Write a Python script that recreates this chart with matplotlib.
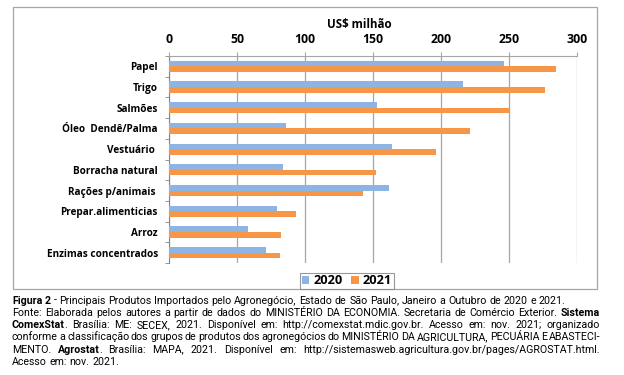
import os
import numpy as np
import matplotlib
matplotlib.use("Agg")
import matplotlib.pyplot as plt
from matplotlib import font_manager
from matplotlib.font_manager import FontProperties
from matplotlib.patches import Rectangle

# ---- data (US$ milhão, Jan-Out) ----
categories = ["Papel", "Trigo", "Salmões", "Óleo  Dendê/Palma", "Vestuário ",
              "Borracha natural", "Rações p/animais ", "Prepar.alimenticias",
              "Arroz", "Enzimas concentrados"]
values_2020 = [246.5, 216.4, 153.0, 86.0, 163.8, 83.5, 161.5, 79.5, 57.8, 71.6]
values_2021 = [284.3, 276.2, 250.0, 221.6, 196.0, 152.0, 142.5, 93.5, 82.1, 81.4]
x_ticks = [0, 50, 100, 150, 200, 250, 300]

caption_lines = [
    [("Figura 2", True), ("- Principais Produtos Importados pelo Agronegócio, Estado de São Paulo, "
                          "Janeiro a Outubro de 2020 e 2021.", False)],
    [("Fonte: Elaborada pelos autores a partir de dados do MINISTÉRIO DA ECONOMIA. "
      "Secretaria de Comércio Exterior.", False), ("Sistema", True)],
    [("ComexStat", True), (". Brasília: ME: SECEX, 2021. Disponível em: http://comexstat.mdic.gov.br. "
                           "Acesso em: nov. 2021; organizado", False)],
    [("conforme a classificação dos grupos de produtos dos agronegócios do MINISTÉRIO DA "
      "AGRICULTURA, PECUÁRIA E ABASTECI-", False)],
    [("MENTO.", False), ("Agrostat", True), (". Brasília: MAPA, 2021. Disponível em: "
                                             "http://sistemasweb.agricultura.gov.br/pages/AGROSTAT.html.", False)],
    [("Acesso em: nov. 2021.", False)],
]
justify = [False, True, True, True, True, False]

BLUE = "#8EB4E3"
ORANGE = "#F79646"
W, H = 624, 375
CHART_FONT = "Open Sans"


def bold_font(family, size):
    # look for the "<Family>-Bold" file itself; fall back to a normal lookup
    key = family.replace(" ", "").lower() + "-bold."
    for f in font_manager.fontManager.ttflist:
        if os.path.basename(f.fname).lower().startswith(key):
            return FontProperties(fname=f.fname, size=size)
    return FontProperties(family=family, weight="bold", size=size)


fig = plt.figure(figsize=(W / 100, H / 100), dpi=100)
fig.patch.set_facecolor("white")

# chart area border
fig.patches.append(Rectangle((13 / W, 1 - 289 / H), 584 / W, 282 / H,
                             transform=fig.transFigure, fill=False,
                             edgecolor="#A6A6A6", linewidth=0.9))

ax = fig.add_axes([169 / W, 1 - 263 / H, 408 / W, 207 / H])
y = np.arange(len(categories))
bh = 0.27
ax.barh(y - bh / 2, values_2020, height=bh, color=BLUE, label="2020", zorder=3)
ax.barh(y + bh / 2, values_2021, height=bh, color=ORANGE, label="2021", zorder=3)
ax.set_ylim(len(categories) - 0.5, -0.5)
ax.set_xlim(0, 300)

ax.xaxis.tick_top()
ax.set_xticks(x_ticks)
ax.set_xticklabels([str(t) for t in x_ticks], fontproperties=bold_font(CHART_FONT, 8.8))
ax.tick_params(axis="x", length=3, color="#A6A6A6", pad=4)
ax.set_yticks(y)
ax.set_yticklabels(categories, fontproperties=bold_font(CHART_FONT, 7.2))
ax.tick_params(axis="y", length=0, pad=8)
ax.set_yticks(np.arange(len(categories) + 1) - 0.5, minor=True)
ax.tick_params(axis="y", which="minor", length=3, color="#868686")
ax.grid(axis="x", color="#A6A6A6", linewidth=0.9, zorder=0)
for s in ["right", "bottom"]:
    ax.spines[s].set_visible(False)
ax.spines["top"].set_color("#A6A6A6")
ax.spines["left"].set_color("#868686")

fig.text(359 / W, 1 - 24 / H, "US$ milhão", ha="center", va="center",
         fontproperties=bold_font(CHART_FONT, 8.3))

leg = fig.legend(loc="center", bbox_to_anchor=(347 / W, 1 - 281 / H), ncol=2,
                 prop=bold_font(CHART_FONT, 9.2),
                 frameon=True, fancybox=False, handlelength=0.6, handleheight=0.6,
                 handletextpad=0.35, columnspacing=0.6, borderpad=0.15,
                 borderaxespad=0)
leg.get_frame().set_edgecolor("#7F7F7F")
leg.get_frame().set_linewidth(0.8)

# ---- caption, justified word by word ----
cap_font = "Roboto"
renderer = fig.canvas.get_renderer()
left, right = 12, 600
baseline_y = [303.5, 315.8, 328.1, 340.4, 352.7, 365.0]


def cap_props(bold, size):
    if bold:
        return bold_font(cap_font, size)
    return FontProperties(family=cap_font, weight="normal", size=size)


def measure(word, bold, size):
    t = fig.text(0, 0, word, fontproperties=cap_props(bold, size))
    w = t.get_window_extent(renderer).width
    t.remove()
    return w


# size so that the first (unjustified) caption line spans about 553 px
first = " ".join(p[0] for p in caption_lines[0])
cap_size = 7.0 * 553 / measure(first, False, 7.0)
space_w = measure("a a", False, cap_size) - measure("aa", False, cap_size)

for parts, just, ly in zip(caption_lines, justify, baseline_y):
    words = []
    for text, bold in parts:
        toks = text.split()
        for k, tok in enumerate(toks):
            glue = bool(k == 0 and words and text[0] in ".,;")
            words.append([tok, bold, glue])
    widths = [measure(w[0], w[1], cap_size) for w in words]
    n_gaps = sum(1 for w in words[1:] if not w[2])
    total = sum(widths)
    gap = (right - left - total) / n_gaps if (just and n_gaps) else space_w
    x = left
    for i, ((tok, bold, glue), wd) in enumerate(zip(words, widths)):
        if i > 0:
            x += -0.5 if glue else gap
        fig.text(x / W, 1 - ly / H, tok, fontproperties=cap_props(bold, cap_size),
                 va="baseline", ha="left")
        x += wd

fig.savefig("out.png", dpi=100)
